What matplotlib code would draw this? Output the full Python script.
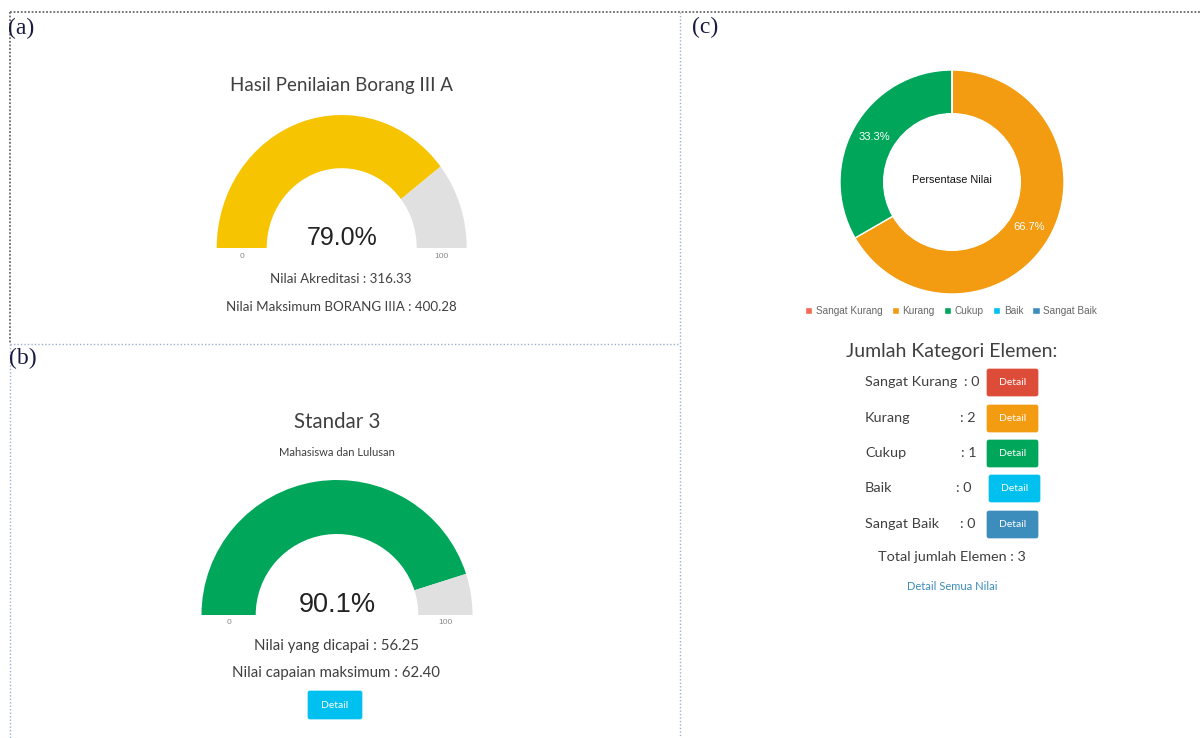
import matplotlib
matplotlib.use("Agg")
import matplotlib.pyplot as plt
from matplotlib.patches import Wedge, FancyBboxPatch

W, H = 1200, 738

# panel (a) / (b): gauge data
gauge_titles = ["Hasil Penilaian Borang III A", "Standar 3"]
gauge_subtitles = ["", "Mahasiswa dan Lulusan"]
nilai_dicapai = [316.33, 56.25]
nilai_maks = [400.28, 62.40]
nilai_labels = [("Nilai Akreditasi", "Nilai Maksimum BORANG IIIA"),
                ("Nilai yang dicapai", "Nilai capaian maksimum")]
gauge_colors = ["#f6c400", "#00a65a"]
gauge_min, gauge_max = 0, 100

# panel (c): donut data
categories = ["Sangat Kurang", "Kurang", "Cukup", "Baik", "Sangat Baik"]
counts = [0, 2, 1, 0, 0]
cat_colors = ["#f56954", "#f39c12", "#00a65a", "#00c0ef", "#3c8dbc"]
btn_colors = ["#dd4b39", "#f39c12", "#00a65a", "#00c0ef", "#3c8dbc"]

TXT = "#404040"
FONT = ["Lato", "DejaVu Sans"]
NUMFONT = ["Liberation Sans", "DejaVu Sans"]

fig = plt.figure(figsize=(W / 100, H / 100), dpi=100)
ax = fig.add_axes([0, 0, 1, 1])
ax.set_xlim(0, W)
ax.set_ylim(H, 0)
ax.axis("off")

# frame lines
dark = "#6a6a6a"
blue = "#9bb0cc"
ax.plot([10, W], [12, 12], color=dark, lw=1.3, ls=(0, (1, 1)))
ax.plot([10, 10], [12, 344], color=dark, lw=1.3, ls=(0, (1, 1)))
ax.plot([10, 10], [344, H], color=blue, lw=1, ls=(0, (1, 1.5)))
ax.plot([680, 680], [12, H], color=blue, lw=1, ls=(0, (1, 1.5)))
ax.plot([10, 680], [344, 344], color=blue, lw=1, ls=(0, (1, 1.5)))

for lab, x, y in [("(a)", 8, 28), ("(b)", 9, 358), ("(c)", 692, 27)]:
    ax.text(x, y, lab, fontsize=17, family="Liberation Serif", color="#1a1a40",
            ha="left", va="center")


def button(x0, y0, w, h, color, fs=7.5):
    ax.add_patch(FancyBboxPatch((x0, y0), w, h, boxstyle="round,pad=0,rounding_size=2",
                                fc=color, ec=color, lw=0.5))
    ax.text(x0 + w / 2, y0 + h / 2, "Detail", color="white", fontsize=fs,
            family=FONT, ha="center", va="center")


def gauge(i, cx, cy, rx, ry, pct_fs):
    pct = nilai_dicapai[i] / nilai_maks[i] * 100
    gax = fig.add_axes([(cx - rx) / W, (H - cy) / H, 2 * rx / W, ry / H])
    gax.set_xlim(-1, 1)
    gax.set_ylim(0, 1)
    gax.axis("off")
    split = 180 - 180 * (pct - gauge_min) / (gauge_max - gauge_min)
    gax.add_patch(Wedge((0, 0), 1, split, 180, width=0.4, fc=gauge_colors[i],
                        ec="none", clip_on=False))
    gax.add_patch(Wedge((0, 0), 1, 0, split, width=0.4, fc="#e0e0e0",
                        ec="none", clip_on=False))
    ax.text(cx, cy - 10, "%.1f%%" % pct, fontsize=pct_fs, family=NUMFONT,
            color="#222222", ha="center", va="center")
    ax.text(cx - 0.8 * rx, cy + 8, str(gauge_min), fontsize=6, family=NUMFONT,
            color="#888888", ha="center", va="center")
    ax.text(cx + 0.8 * rx, cy + 8, str(gauge_max), fontsize=6, family=NUMFONT,
            color="#888888", ha="center", va="center")


# panel (a)
gauge(0, 341.7, 248, 125, 133, 18)
ax.text(341, 86, gauge_titles[0], fontsize=13.5, family=FONT, color=TXT,
        ha="center", va="center")
ax.text(341, 279, "%s : %.2f" % (nilai_labels[0][0], nilai_dicapai[0]), fontsize=9.6,
        family=FONT, color=TXT, ha="center", va="center")
ax.text(341, 307, "%s : %.2f" % (nilai_labels[0][1], nilai_maks[0]), fontsize=9.6,
        family=FONT, color=TXT, ha="center", va="center")

# panel (b)
gauge(1, 337, 615, 135.5, 135, 19.5)
ax.text(337, 422, gauge_titles[1], fontsize=14.8, family=FONT, color=TXT,
        ha="center", va="center")
ax.text(337, 452, gauge_subtitles[1], fontsize=8, family=FONT, color=TXT,
        ha="center", va="center")
ax.text(336, 646, "%s : %.2f" % (nilai_labels[1][0], nilai_dicapai[1]), fontsize=10.8,
        family=FONT, color=TXT, ha="center", va="center")
ax.text(336, 673, "%s : %.2f" % (nilai_labels[1][1], nilai_maks[1]), fontsize=10.8,
        family=FONT, color=TXT, ha="center", va="center")
button(308, 691, 54, 28, "#00c0ef", fs=7.5)

# panel (c) donut
cx, cy, r = 952, 182, 112
dax = fig.add_axes([(cx - r) / W, (H - cy - r) / H, 2 * r / W, 2 * r / H])
wedges, _, autotexts = dax.pie(
    counts, colors=cat_colors, startangle=90, counterclock=False,
    radius=1, pctdistance=0.8,
    autopct=lambda p: ("%.1f%%" % p) if p > 0 else "",
    wedgeprops=dict(width=0.39, edgecolor="white", linewidth=1),
    textprops=dict(color="white", fontsize=8, family=NUMFONT))
dax.set_xlim(-1, 1)
dax.set_ylim(-1, 1)
ax.text(cx, 180, "Persentase Nilai", fontsize=7.8, family=NUMFONT, color="#111111",
        ha="center", va="center")

leg = fig.legend(wedges, categories, loc="center", ncol=5, frameon=False,
                 bbox_to_anchor=(951 / W, 1 - 311 / H), fontsize=7.2,
                 handlelength=0.75, handleheight=0.75, handletextpad=0.35,
                 columnspacing=0.9, borderpad=0)
for t in leg.get_texts():
    t.set_color("#666666")
    t.set_family(NUMFONT)

ax.text(952, 352, "Jumlah Kategori Elemen:", fontsize=14, family=FONT, color=TXT,
        ha="center", va="center")

row_y = [382, 418, 453, 488, 524]
colon_x = [964, 960, 961, 956, 960]
btn_x = [987, 987, 987, 989, 987]
for k, cat in enumerate(categories):
    ax.text(865, row_y[k], cat, fontsize=10.4, family=FONT, color=TXT,
            ha="left", va="center")
    ax.text(colon_x[k], row_y[k], ": %d" % counts[k], fontsize=10.4, family=FONT,
            color=TXT, ha="left", va="center")
    button(btn_x[k], row_y[k] - 13, 51, 27, btn_colors[k], fs=7.5)

ax.text(952, 557, "Total jumlah Elemen : %d" % sum(counts), fontsize=10.4, family=FONT,
        color=TXT, ha="center", va="center")
ax.text(952, 586, "Detail Semua Nilai", fontsize=8, family=FONT, color="#3c8dbc",
        ha="center", va="center")

fig.savefig("out.png", dpi=100)
